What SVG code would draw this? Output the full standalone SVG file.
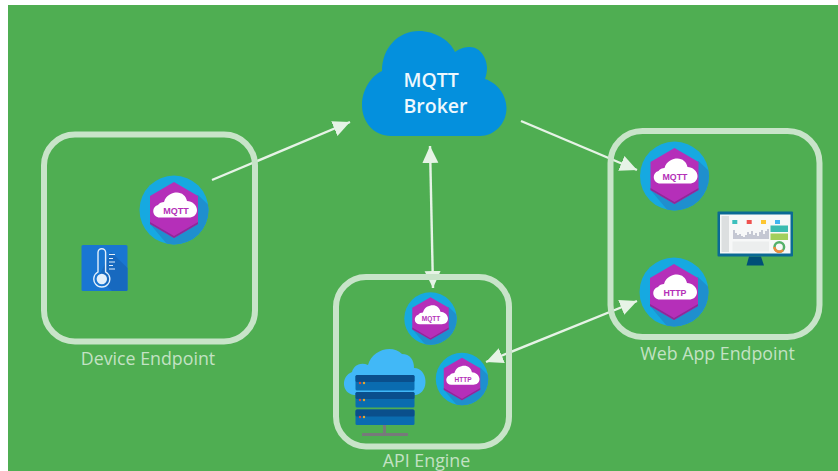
<svg xmlns="http://www.w3.org/2000/svg" width="838" height="471" viewBox="0 0 838 471">
<style>
.frame{fill:none;stroke:#c8e4c9;stroke-width:6}
.lbl{font-family:"Open Sans","Noto Sans",sans-serif;font-size:17.800px;fill:#c3e2c4;text-anchor:middle}
.cn{stroke:#e6f3e6;stroke-width:2.400;fill:none}
.bt{font-family:"Liberation Sans",Arial,sans-serif;font-weight:700;fill:#b430b8;text-anchor:middle}
.brk{font-family:"Open Sans","Noto Sans",sans-serif;font-weight:600;font-size:19.500px;fill:#eef8fd}
</style>
<defs>
<marker id="ah" markerUnits="userSpaceOnUse" markerWidth="20" markerHeight="18" refX="17" refY="8" orient="auto-start-reverse"><path d="M0,0L17,8L0,16Z" fill="#e6f3e6"/></marker>
<clipPath id="cc"><circle r="34.500"/></clipPath>
<g id="badge">
<circle r="34.500" fill="#16a9e1"/>
<path clip-path="url(#cc)" d="M24,-15L50,10L30,40L-2,40L-24,14Z" fill="#1f8fce"/>
<path d="M0,-28L24,-14V14L0,28L-24,14V-14Z" fill="#b52fb9"/>
<path d="M24,12V14L0,28L-24,14V12L0,26Z" fill="#8e2a99"/>
<path d="M-14,7.500C-22,7.500 -23,-3 -16,-5C-15,-7 -12,-8 -10,-8C-8,-15 -2,-17.500 3,-17.500C8,-17.500 12,-14 13,-9C18,-9 23,-5 23,0C23,5 19,7.500 15,7.500Z" fill="#fff"/>
</g>
</defs>
<rect width="838" height="471" fill="#fff"/>
<rect x="8" y="5" width="830" height="466" fill="#4fae52"/>
<g id="connectors">
<path class="cn" d="M212,180L350,122" marker-end="url(#ah)"/>
<path class="cn" d="M521,121L637,170" marker-end="url(#ah)"/>
<path class="cn" d="M430,146L433,288" marker-start="url(#ah)" marker-end="url(#ah)"/>
<path class="cn" d="M486,362L637,301" marker-start="url(#ah)" marker-end="url(#ah)"/>
</g>
<g id="broker">
<path d="M391,136C374,136 362,122 362,105C362,90 371,76 382,71C382,48 398,31 419,31C434,31 450,40 455,52C460,48 466,47 470,47C480,47 487,58 487,68C487,72 486,76 485,79C498,83 506.500,96 506.500,108C506.500,124 494,136 480,136Z" fill="#0490dd"/>
<text class="brk" x="403.500" y="87">MQTT</text>
<text class="brk" x="403.500" y="113">Broker</text>
</g>
<g id="device-endpoint">
<rect class="frame" x="44" y="134.500" width="211" height="207" rx="31"/>
<text class="lbl" x="148" y="364.500">Device Endpoint</text>
<use href="#badge" transform="translate(174,210)"/>
<text class="bt" x="176" y="214" font-size="9">MQTT</text>
<g id="thermometer">
<rect x="81.500" y="245" width="46" height="46" rx="1.500" fill="#1976d2"/>
<path d="M111,252L127.500,268V289.500A1.500,1.500 0 0 1 126,291H112L98,278Z" fill="#1769bf"/>
<path d="M98,272V252.500A3.800,3.800 0 0 1 105.600,252.500V272A8,8 0 1 1 98,272Z" fill="none" stroke="#e3f0fb" stroke-width="1.400"/>
<circle cx="101.800" cy="279" r="5.200" fill="#e3f0fb"/>
<path d="M109,254.500H115M109,258.500H113M109,262H115M109,265.500H113M109,269H115" stroke="#e3f0fb" stroke-width="1.200"/>
</g>
</g>
<g id="api-engine">
<rect class="frame" x="336" y="277" width="173" height="169.500" rx="30"/>
<text class="lbl" x="426.500" y="466.500">API Engine</text>
<use href="#badge" transform="translate(430.500,318.500) scale(.76)"/>
<text class="bt" x="431" y="321" font-size="6.500">MQTT</text>
<use href="#badge" transform="translate(462,379) scale(.76)"/>
<text class="bt" x="463" y="381.700" font-size="6.500">HTTP</text>
<g id="server">
<path d="M354,395C341,393 341,376 352,372C354,364 362,362 368,365C372,350 392,344 402,354C410,354 414,360 414,368C428,368 430,392 416,395Z" fill="#41b8f7"/>
<g fill="#0a6cb0">
<rect x="355.500" y="375" width="59" height="15.500" rx="1.500"/>
<rect x="355.500" y="392" width="59" height="15.500" rx="1.500"/>
<rect x="355.500" y="409.500" width="59" height="15.500" rx="1.500"/>
</g>
<g fill="#0a4f8c">
<rect x="355.500" y="375" width="59" height="7" rx="1.500"/>
<rect x="355.500" y="392" width="59" height="7" rx="1.500"/>
<rect x="355.500" y="409.500" width="59" height="7" rx="1.500"/>
</g>
<g fill="#e0483c"><circle cx="360" cy="383" r="1.200"/><circle cx="360" cy="400" r="1.200"/><circle cx="360" cy="417" r="1.200"/></g>
<g fill="#e8a62c"><circle cx="364" cy="383" r="1.200"/><circle cx="364" cy="400" r="1.200"/><circle cx="364" cy="417" r="1.200"/></g>
<path d="M383,425h3v8h22v3h-46v-3h21Z" fill="#77797a"/>
</g>
</g>
<g id="web-app-endpoint">
<rect class="frame" x="610.500" y="131" width="209" height="206" rx="32"/>
<text class="lbl" x="717.500" y="359.500">Web App Endpoint</text>
<use href="#badge" transform="translate(674.500,176)"/>
<text class="bt" x="675" y="180" font-size="8.800">MQTT</text>
<use href="#badge" transform="translate(674,292)"/>
<text class="bt" x="675" y="296" font-size="8.800">HTTP</text>
<g id="monitor">
<path d="M746.500,265.500L749,256.500H761L764,265.500Z" fill="#004f77"/>
<rect x="717.500" y="211.500" width="75.500" height="45" rx="1" fill="#0b6a94"/>
<rect x="720" y="214.500" width="70.500" height="39" fill="#f7f8f8"/>
<rect x="721.500" y="216" width="7.500" height="36" fill="#dcdfe0"/>
<rect x="732.300" y="220" width="5" height="4" fill="#3cc0bd"/>
<rect x="746.700" y="220" width="5" height="4" fill="#ef5350"/>
<rect x="761" y="220" width="5" height="4" fill="#fdc632"/>
<rect x="775" y="220" width="5" height="4" fill="#40b5f0"/>
<path d="M734,239V230M736,239V233M738,239V235M740,239V234M742,239V236M744,239V237M746,239V235M748,239V232M750,239V234M752,239V231M754,239V235M756,239V233M758,239V236M760,239V232M762,239V230M764,239V234M766,239V231M768,239V229" stroke="#9297ad" stroke-width="1"/>
<rect x="732.500" y="241.500" width="36.500" height="10" fill="#eceeee"/>
<rect x="770.500" y="225.500" width="17.500" height="6.500" fill="#3bbcb0"/>
<rect x="770.500" y="233.500" width="17.500" height="6.500" fill="#a2cf5b"/>
<circle cx="779.300" cy="247" r="4.800" fill="none" stroke="#54b06a" stroke-width="2.500"/>
<path d="M774.500,247A4.800,4.800 0 0 0 783,250" fill="none" stroke="#ef8b3c" stroke-width="2.500"/>
</g>
</g>
</svg>
